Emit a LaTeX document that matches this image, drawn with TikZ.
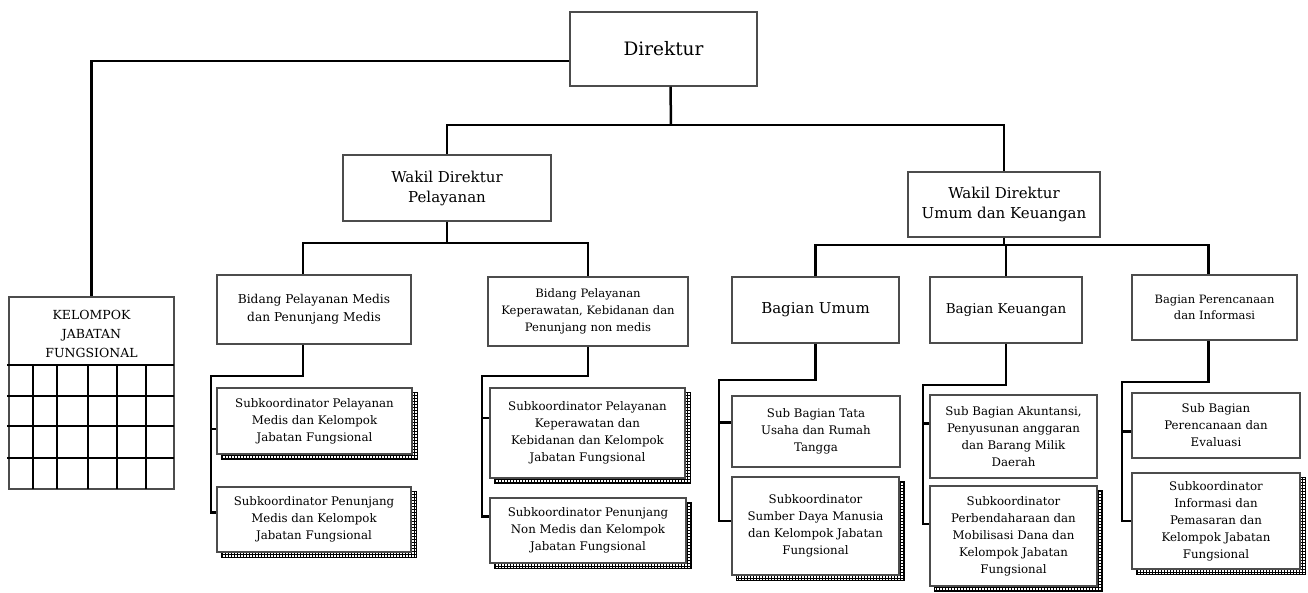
\documentclass[tikz,border=0pt]{standalone}
\usepackage{fontspec}
\setmainfont{DejaVu Serif}
\usetikzlibrary{patterns,backgrounds}
\tikzset{
  box/.style={draw=black!70, line width=1.5pt, fill=white, align=center, inner sep=2pt},
  conn/.style={line width=2.5pt, black},
  gridln/.style={line width=2pt, black},
  shadowst/.style={draw=black, line width=0.7pt, pattern=grid, pattern color=black},
  fsub/.style={font=\fontsize{11.8}{17}\selectfont},
}
\newcommand{\shd}[1]{\path[shadowst] ([shift={(5,5)}]#1.south west) rectangle ([shift={(5,5)}]#1.north east);}
\begin{document}
\begin{tikzpicture}[x=1pt,y=-1pt]
\useasboundingbox (0,0) rectangle (1308,593);
% top level
\node[box, minimum width=187, minimum height=74, font=\fontsize{18.5}{22}\selectfont] (dir) at (663.5,49) {Direktur};
\node[box, minimum width=208, minimum height=66, font=\fontsize{15}{20}\selectfont] (wp) at (447,188) {Wakil Direktur\\Pelayanan};
\node[box, minimum width=192, minimum height=65, font=\fontsize{15}{20}\selectfont] (wu) at (1004,204.5) {Wakil Direktur\\Umum dan Keuangan};
% kelompok
\node[box, minimum width=165, minimum height=192] (kf) at (91.5,393) {};
\node[align=center, font=\fontsize{12.5}{19}\selectfont] (kft) at (91.5,334) {KELOMPOK\\JABATAN\\FUNGSIONAL};
% bidang / bagian
\node[box, minimum width=194, minimum height=69, font=\fontsize{12.2}{18}\selectfont] (bm) at (314,309.5) {Bidang Pelayanan Medis\\dan Penunjang Medis};
\node[box, minimum width=200, minimum height=69, font=\fontsize{11.6}{17}\selectfont] (bk) at (588,311.5) {Bidang Pelayanan\\Keperawatan, Kebidanan dan\\Penunjang non medis};
\node[box, minimum width=167, minimum height=66, font=\fontsize{15}{19}\selectfont] (bu) at (815.5,310) {Bagian Umum};
\node[box, minimum width=152, minimum height=66, font=\fontsize{13.5}{18}\selectfont] (bg) at (1006,310) {Bagian Keuangan};
\node[box, minimum width=165, minimum height=65, font=\fontsize{11.5}{16}\selectfont] (bp) at (1214.5,307.5) {Bagian Perencanaan\\dan Informasi};
% sub boxes
\node[box, fsub, minimum width=195, minimum height=66] (m1) at (314.5,421) {Subkoordinator Pelayanan\\Medis dan Kelompok\\Jabatan Fungsional};
\node[box, fsub, minimum width=194, minimum height=65] (m2) at (314,519.5) {Subkoordinator Penunjang\\Medis dan Kelompok\\Jabatan Fungsional};
\node[box, fsub, minimum width=195, minimum height=90] (k1) at (587.5,433) {Subkoordinator Pelayanan\\Keperawatan dan\\Kebidanan dan Kelompok\\Jabatan Fungsional};
\node[box, fsub, minimum width=196, minimum height=65] (k2) at (588,530.5) {Subkoordinator Penunjang\\Non Medis dan Kelompok\\Jabatan Fungsional};
\node[box, fsub, minimum width=168, minimum height=71] (u1) at (816,431.5) {Sub Bagian Tata\\Usaha dan Rumah\\Tangga};
\node[box, fsub, minimum width=167, minimum height=98] (u2) at (815.5,526) {Subkoordinator\\Sumber Daya Manusia\\dan Kelompok Jabatan\\Fungsional};
\node[box, fsub, minimum width=167, minimum height=83] (g1) at (1013.5,436.5) {Sub Bagian Akuntansi,\\Penyusunan anggaran\\dan Barang Milik\\Daerah};
\node[box, fsub, minimum width=167, minimum height=100] (g2) at (1013.5,536) {Subkoordinator\\Perbendaharaan dan\\Mobilisasi Dana dan\\Kelompok Jabatan\\Fungsional};
\node[box, fsub, minimum width=168, minimum height=65] (p1) at (1216,425.5) {Sub Bagian\\Perencanaan dan\\Evaluasi};
\node[box, fsub, minimum width=168, minimum height=96] (p2) at (1216,521) {Subkoordinator\\Informasi dan\\Pemasaran dan\\Kelompok Jabatan\\Fungsional};
% shadows
\begin{scope}[on background layer]
\shd{m1}\shd{m2}\shd{k1}\shd{k2}\shd{u2}\shd{g2}\shd{p2}
\end{scope}
% kelompok grid
\foreach \yy in {365,396,426,458} \draw[gridln] (7,\yy) -- (174,\yy);
\foreach \xx in {33,57,88,117,146} \draw[gridln] (\xx,365) -- (\xx,489);
% connectors
\coordinate (h1) at (671,125);
\coordinate (h2) at (447,243);
\coordinate (h3) at (1004,245);
\draw[conn] ([xshift=7]dir.south) -- (h1);
\draw[conn] (wp.north) |- (h1) -| (wu.north);
\draw[conn] ([yshift=-12]dir.west) -| (kf.north);
\draw[conn] (wp.south) -- (h2);
\draw[conn] ([xshift=-11]bm.north) |- (h2) -| (bk.north);
\draw[conn] (wu.south) -- (h3);
\draw[conn] (bu.north) |- (h3) -| (bg.north);
\draw[conn] (h3) -| ([xshift=-6]bp.north);
% brackets
\coordinate (jm) at (211,376);
\coordinate (jk) at (482,376);
\coordinate (ju) at (719,380);
\coordinate (jg) at (923,385);
\coordinate (jp) at (1122,382);
\draw[conn] ([xshift=-11]bm.south) |- (jm) |- ([yshift=7]m2.west);
\draw[conn] ([yshift=-8]m1.west -| jm) -- ([yshift=-8]m1.west);
\draw[conn] (bk.south) |- (jk) |- ([yshift=14]k2.west);
\draw[conn] ([yshift=15]k1.west -| jk) -- ([yshift=15]k1.west);
\draw[conn] (bu.south) |- (ju) |- ([yshift=5]u2.west);
\draw[conn] ([yshift=9]u1.west -| ju) -- ([yshift=9]u1.west);
\draw[conn] (bg.south) |- (jg) |- ([yshift=12]g2.west);
\draw[conn] ([yshift=13]g1.west -| jg) -- ([yshift=13]g1.west);
\draw[conn] ([xshift=-6]bp.south) |- (jp) |- (p2.west);
\draw[conn] ([yshift=-6]p1.west -| jp) -- ([yshift=-6]p1.west);
\end{tikzpicture}
\end{document}
